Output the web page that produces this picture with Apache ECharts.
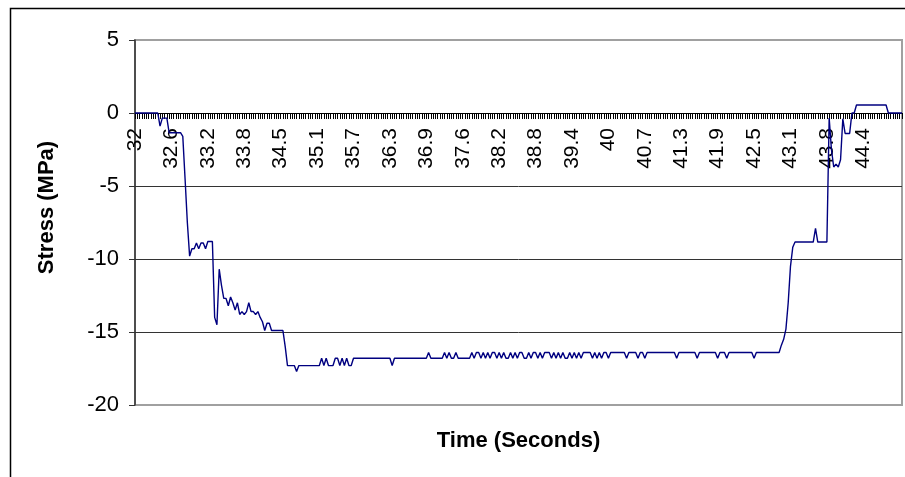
<!DOCTYPE html>
<html>
<head>
<meta charset="utf-8">
<script src="https://cdn.jsdelivr.net/npm/echarts@6/dist/echarts.min.js"></script>
<style>html,body{margin:0;padding:0;background:#fff;}#c{width:905px;height:477px;}</style>
</head>
<body>
<div id="c"></div>
<script>
// Tick labels shown every 16 samples along the category axis
var tickLabels = ['32','32.6','33.2','33.8','34.5','35.1','35.7','36.3','36.9','37.6','38.2','38.8','39.4','40','40.7','41.3','41.9','42.5','43.1','43.8','44.4'];
var labelEvery = 16;

// Stress readings (MPa), written as runs: [value, number of consecutive samples]
var stressRuns = [
  [0,11],[-0.9,1],[-0.35,3],[-1.35,6],[-1.6,1],[-4.5,1],[-7.5,1],[-9.8,1],
  [-9.3,2],[-8.9,1],[-9.3,1],[-8.9,2],[-9.3,1],[-8.8,3],
  [-14.0,1],[-14.5,1],[-10.7,1],[-11.8,1],[-12.7,2],[-13.2,1],[-12.6,1],[-13.0,1],[-13.5,1],[-13.0,1],
  [-13.8,1],[-13.6,1],[-13.8,1],[-13.6,1],[-13.0,1],[-13.6,2],[-13.8,1],[-13.6,1],[-14.0,1],[-14.3,1],
  [-14.9,1],[-14.4,2],[-14.9,6],[-16.0,1],[-17.3,4],[-17.7,1],[-17.3,10],
  [-16.8,1],[-17.3,1],[-16.8,1],[-17.3,3],[-16.8,2],[-17.3,1],[-16.8,1],[-17.3,1],[-16.8,1],[-17.3,2],
  [-16.8,17],[-17.3,1],[-16.8,15],[-16.4,1],[-16.8,6],
  [-16.4,1],[-16.8,1],[-16.4,1],[-16.8,2],[-16.4,1],[-16.8,6],
  [-16.4,1],[-16.8,1],[-16.4,2],[-16.8,1],[-16.4,1],[-16.8,1],[-16.4,1],[-16.8,1],[-16.4,2],[-16.8,1],
  [-16.4,1],[-16.8,1],[-16.4,1],[-16.8,2],[-16.4,1],[-16.8,1],[-16.4,1],[-16.8,1],[-16.4,2],[-16.8,2],
  [-16.4,1],[-16.8,1],[-16.4,2],[-16.8,1],[-16.4,1],[-16.8,1],[-16.4,1],
  [-16.4,2],[-16.8,1],[-16.4,1],[-16.8,1],[-16.4,1],[-16.8,1],[-16.4,1],[-16.8,2],[-16.4,1],[-16.8,1],
  [-16.4,1],[-16.8,1],[-16.4,1],[-16.8,1],[-16.4,4],
  [-16.8,1],[-16.4,1],[-16.8,1],[-16.4,1],[-16.8,1],[-16.4,2],[-16.8,1],
  [-16.4,7],[-16.8,1],[-16.4,4],[-16.8,1],[-16.4,2],[-16.8,1],[-16.4,13],[-16.8,1],[-16.4,8],[-16.8,1],
  [-16.4,8],[-16.8,1],[-16.4,3],[-16.8,1],[-16.4,11],[-16.8,1],[-16.4,11],
  [-15.9,1],[-15.5,1],[-14.8,1],[-13.0,1],[-10.5,1],[-9.2,1],[-8.84,9],[-7.9,1],[-8.84,5],
  [-0.35,1],[-2.5,1],[-3.7,1],[-3.5,1],[-3.7,1],[-3.2,1],[-0.4,1],[-1.4,3],[0,2],[0.55,14],[0,7]
];

var stress = [];
stressRuns.forEach(function (r) { for (var k = 0; k < r[1]; k++) stress.push(r[0]); });
var categories = [];
for (var i = 0; i < stress.length; i++) categories.push(String(i));

var font = "'Liberation Sans', Arial, sans-serif";
var chart = echarts.init(document.getElementById('c'), null, {renderer: 'canvas'});
chart.setOption({
  animation: false,
  backgroundColor: '#fff',
  grid: {left: 135, right: 3, top: 40, bottom: 72, containLabel: false, outerBoundsMode: 'none',
         show: true, borderColor: '#a0a0a0', borderWidth: 2, backgroundColor: 'transparent'},
  graphic: [{
    type: 'rect', left: 8, top: 6, shape: {width: 1000, height: 1000},
    style: {fill: 'none', stroke: '#000', lineWidth: 1.5}, silent: true, z: -1
  }],
  xAxis: {
    type: 'category',
    data: categories,
    boundaryGap: false,
    offset: -292,
    name: 'Time (Seconds)',
    nameLocation: 'middle',
    nameGap: 317,
    nameTextStyle: {fontFamily: font, fontSize: 22, fontWeight: 'bold', color: '#000'},
    axisLine: {onZero: false, lineStyle: {color: '#000', width: 1}},
    axisTick: {show: true, interval: 0, length: 6, lineStyle: {color: '#000', width: 1}},
    axisLabel: {
      interval: labelEvery - 1, rotate: 90, margin: 15,
      fontFamily: font, fontSize: 21, color: '#000',
      formatter: function (v) { var k = Number(v) / labelEvery; return tickLabels[k] !== undefined ? tickLabels[k] : ''; }
    },
    splitLine: {show: false}
  },
  yAxis: {
    type: 'value',
    min: -20, max: 5, interval: 5,
    name: 'Stress (MPa)',
    nameLocation: 'middle',
    nameGap: 77,
    nameTextStyle: {fontFamily: font, fontSize: 22, fontWeight: 'bold', color: '#000', padding: [0, 0, 0, 30]},
    axisLine: {show: true, lineStyle: {color: '#333', width: 1.5}},
    axisTick: {show: true, length: 6, lineStyle: {color: '#333'}},
    axisLabel: {fontFamily: font, fontSize: 22, color: '#000', margin: 16},
    splitLine: {show: true, showMinLine: false, showMaxLine: false, lineStyle: {color: '#333', width: 1}}
  },
  series: [{
    type: 'line',
    data: stress,
    showSymbol: false,
    symbol: 'none',
    lineStyle: {color: '#000080', width: 1.4},
    z: 3
  }]
});
</script>
</body>
</html>
